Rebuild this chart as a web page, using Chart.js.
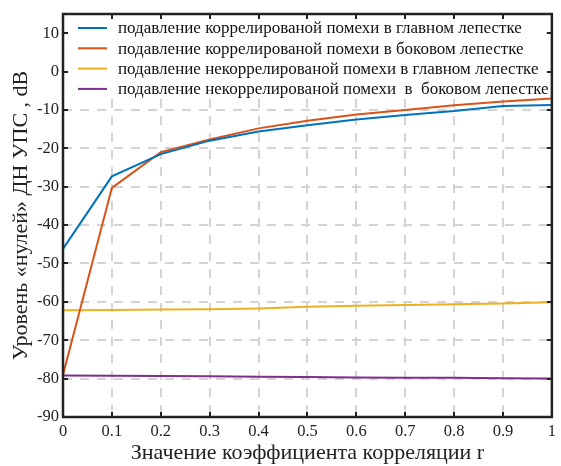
<!DOCTYPE html>
<html>
<head>
<meta charset="utf-8">
<script src="https://cdn.jsdelivr.net/npm/chart.js@4.4.1/dist/chart.umd.min.js"></script>
<style>
  html, body { margin: 0; padding: 0; background: #fff; }
  #wrap { width: 561px; height: 466px; }
</style>
</head>
<body>
<div id="wrap"><canvas id="miGrafico"></canvas></div>
<script>
// коэффициент корреляции r
const valoresR = [0, 0.1, 0.2, 0.3, 0.4, 0.5, 0.6, 0.7, 0.8, 0.9, 1];

const corrGlavnyi = [-46.2, -27.3, -21.5, -18.0, -15.6, -14.0, -12.5, -11.3, -10.3, -9.0, -8.7];
const corrBokovoi = [-79.0, -30.3, -21.0, -17.7, -14.8, -12.8, -11.2, -10.0, -8.8, -7.8, -7.0];
const nekorrGlavnyi = [-62.2, -62.1, -62.0, -61.9, -61.7, -61.3, -61.0, -60.8, -60.6, -60.4, -60.1];
const nekorrBokovoi = [-79.2, -79.25, -79.3, -79.4, -79.5, -79.6, -79.7, -79.75, -79.8, -79.9, -80.0];

const etiquetas = [
    'подавление коррелированой помехи в главном лепестке',
    'подавление коррелированой помехи в боковом лепестке',
    'подавление некоррелированой помехи в главном лепестке',
    'подавление некоррелированой помехи  в  боковом лепестке'
];
const colores = ['#0072BD', '#D95319', '#EDB120', '#7E2F8E'];

const yTicks = [-90, -80, -70, -60, -50, -40, -30, -20, -10, 0, 10];

const fuente = '"Liberation Serif", "Times New Roman", serif';

function puntos(valores) {
    return valores.map((v, i) => ({ x: valoresR[i], y: v }));
}

const series = [corrGlavnyi, corrBokovoi, nekorrGlavnyi, nekorrBokovoi];

// leyenda dentro del area + marco con ticks hacia adentro
const marcoPlugin = {
    id: 'marco',
    beforeDatasetsDraw(chart) {
        const a = chart.chartArea;
        const ctx = chart.ctx;
        ctx.save();
        ctx.fillStyle = '#fff';
        ctx.fillRect(a.left + 3, a.top + 2, a.right - a.left - 6, 82);
        ctx.restore();
    },
    afterDatasetsDraw(chart) {
        const a = chart.chartArea;
        const ctx = chart.ctx;
        ctx.save();
        // leyenda
        ctx.font = '17px ' + fuente;
        ctx.textBaseline = 'middle';
        chart.data.datasets.forEach((ds, i) => {
            const y = a.top + 14 + i * 20.3;
            ctx.strokeStyle = ds.borderColor;
            ctx.lineWidth = 2;
            ctx.beginPath();
            ctx.moveTo(a.left + 15, y);
            ctx.lineTo(a.left + 44, y);
            ctx.stroke();
            ctx.fillStyle = '#111';
            ctx.fillText(ds.label, a.left + 55, y + 1);
        });
        // ticks hacia adentro
        const xs = chart.scales.x, ys = chart.scales.y;
        ctx.strokeStyle = '#222';
        ctx.lineWidth = 2;
        ctx.beginPath();
        xs.ticks.forEach(t => {
            const px = Math.round(xs.getPixelForValue(t.value));
            ctx.moveTo(px, a.bottom); ctx.lineTo(px, a.bottom - 5);
            ctx.moveTo(px, a.top); ctx.lineTo(px, a.top + 5);
        });
        ys.ticks.forEach(t => {
            const py = Math.round(ys.getPixelForValue(t.value));
            ctx.moveTo(a.left, py); ctx.lineTo(a.left + 5, py);
            ctx.moveTo(a.right, py); ctx.lineTo(a.right - 5, py);
        });
        ctx.stroke();
        // marco
        ctx.lineWidth = 2.5;
        ctx.strokeRect(a.left, a.top, a.right - a.left, a.bottom - a.top);
        ctx.restore();
    }
};

const ctx = document.getElementById('miGrafico').getContext('2d');

new Chart(ctx, {
    type: 'line',
    data: {
        datasets: series.map((s, i) => ({
            label: etiquetas[i],
            data: puntos(s),
            borderColor: colores[i],
            backgroundColor: colores[i],
            borderWidth: 2,
            pointRadius: 0,
            tension: 0,
            fill: false
        }))
    },
    options: {
        responsive: true,
        maintainAspectRatio: false,
        animation: false,
        layout: { padding: { top: 14, right: 4, left: 0, bottom: 0 } },
        plugins: {
            legend: { display: false },
            tooltip: { enabled: false }
        },
        scales: {
            x: {
                type: 'linear',
                min: 0,
                max: 1,
                ticks: {
                    stepSize: 0.1,
                    color: '#222',
                    padding: 5,
                    maxRotation: 0,
                    font: { family: fuente, size: 16.5 },
                    callback: v => String(Math.round(v * 10) / 10)
                },
                grid: { color: '#d4d4d4', lineWidth: 2, drawTicks: false },
                border: { display: false, dash: [9, 8] },
                title: {
                    display: true,
                    text: 'Значение коэффициента корреляции r',
                    color: '#222',
                    font: { family: fuente, size: 22 },
                    padding: { top: 0, bottom: 0 }
                },
                afterFit: s => { s.height = 49; }
            },
            y: {
                type: 'linear',
                min: -90,
                max: 15,
                afterBuildTicks: s => {
                    s.ticks = yTicks.map(v => ({ value: v }));
                },
                ticks: {
                    color: '#222',
                    padding: 4,
                    font: { family: fuente, size: 16.5 }
                },
                grid: { color: '#d4d4d4', lineWidth: 2, drawTicks: false },
                border: { display: false, dash: [9, 8] },
                title: {
                    display: true,
                    text: 'Уровень «нулей» ДН УПС , dB',
                    color: '#222',
                    font: { family: fuente, size: 22 },
                    padding: { top: 8, bottom: 0 }
                },
                afterFit: s => { s.width = 63; }
            }
        }
    },
    plugins: [marcoPlugin]
});
</script>
</body>
</html>
